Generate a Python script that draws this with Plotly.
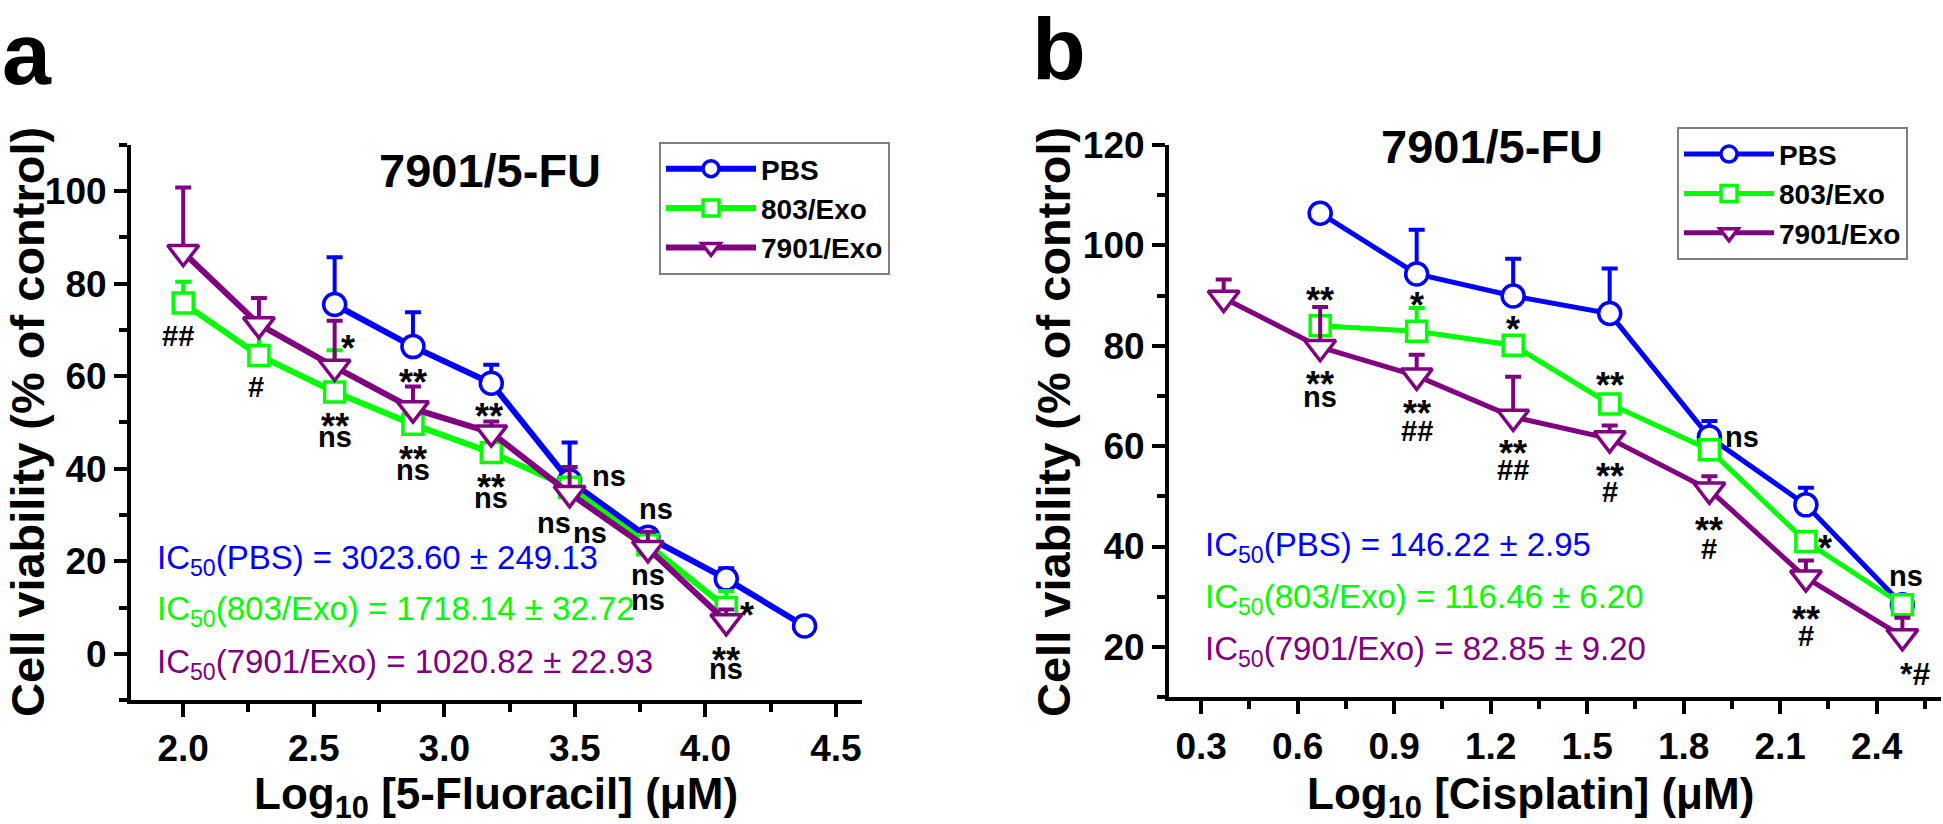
import plotly.graph_objects as go

# ---------------- Panel a : 5-Fluoracil ----------------
dose_a = [2.0, 2.29, 2.58, 2.88, 3.18, 3.48, 3.78, 4.08, 4.38]
pbs_a = [75.5, 66.4, 58.5, 37.4, 25.2, 16.2, 6.0]            # doses 2.58 .. 4.38
pbs_a_err = [10.2, 7.4, 4.0, 8.3, 1.5, 2.3, 1.0]
exo803_a = [75.8, 64.5, 56.6, 49.6, 43.5, 36.0, 23.6, 10.0]  # doses 2.0 .. 4.08
exo803_a_err = [4.6, 7.5, 9.0, 1.0, 1.0, 1.0, 1.0, 3.6]
exo7901_a = [86.8, 71.2, 62.0, 53.0, 47.8, 34.7, 22.8, 7.0]  # doses 2.0 .. 4.08
exo7901_a_err = [14.0, 5.7, 10.0, 4.8, 2.4, 5.7, 3.6, 2.6]

sig_a_x = [1.98, 2.28, 2.63, 2.58, 2.58, 2.88, 2.88, 2.88, 3.17, 3.18, 3.18,
           3.63, 3.42, 3.56, 3.81, 3.78, 3.78, 4.16, 4.08, 4.08]
sig_a_y = [68.7, 57.7, 67.6, 50.6, 46.4, 60.2, 43.6, 39.3, 52.8, 37.4, 33.2,
           37.9, 27.9, 25.7, 30.8, 16.6, 11.3, 9.8, 0.0, -3.8]
sig_a_text = ["##", "#", "*", "**", "ns", "**", "**", "ns", "**", "**", "ns",
              "ns", "ns", "ns", "ns", "ns", "ns", "*", "**", "ns"]

ic50_a = ["IC<sub>50</sub>(PBS) = 3023.60 ± 249.13",
          "IC<sub>50</sub>(803/Exo) = 1718.14 ± 32.72",
          "IC<sub>50</sub>(7901/Exo) = 1020.82 ± 22.93"]
ic50_a_y = [20.3, 9.2, -2.2]

# ---------------- Panel b : Cisplatin ----------------
dose_b = [0.37, 0.67, 0.97, 1.27, 1.57, 1.88, 2.18, 2.48]
pbs_b = [106.4, 94.3, 89.9, 86.4, 61.8, 48.3, 28.4]           # doses 0.67 .. 2.48
pbs_b_err = [1.0, 8.8, 7.4, 9.0, 3.2, 3.4, 1.0]
exo803_b = [84.0, 82.9, 80.1, 68.4, 59.3, 41.0, 28.4]         # doses 0.67 .. 2.48
exo803_b_err = [1.0, 4.6, 1.0, 1.0, 1.0, 1.0, 1.0]
exo7901_b = [89.5, 79.7, 74.0, 65.8, 61.5, 51.3, 33.8, 22.1]  # doses 0.37 .. 2.48
exo7901_b_err = [3.7, 8.0, 4.2, 8.0, 2.6, 2.7, 3.4, 3.7]

sig_b_x = [0.67, 0.67, 0.67, 0.97, 0.97, 0.97, 1.27, 1.27, 1.27, 1.57, 1.57, 1.57,
           1.98, 1.88, 1.88, 2.24, 2.18, 2.18, 2.49, 2.52]
sig_b_y = [90.5, 73.6, 69.4, 89.5, 67.8, 63.0, 84.6, 60.0, 55.3, 73.4, 55.4, 50.8,
           61.4, 44.6, 39.5, 41.0, 26.8, 22.1, 33.7, 15.3]
sig_b_text = ["**", "**", "ns", "*", "**", "##", "*", "**", "##", "**", "**", "#",
              "ns", "**", "#", "*", "**", "#", "ns", "*#"]

ic50_b = ["IC<sub>50</sub>(PBS) = 146.22 ± 2.95",
          "IC<sub>50</sub>(803/Exo) = 116.46 ± 6.20",
          "IC<sub>50</sub>(7901/Exo) = 82.85 ± 9.20"]
ic50_b_y = [40.0, 29.6, 19.2]

series_names = ["PBS", "803/Exo", "7901/Exo"]
colors = ["#0000FF", "#00FF00", "#800080"]
symbols = ["circle", "square", "triangle-down"]
msizes = [22, 20, 27]

FONT = "Liberation Sans, Arial, sans-serif"

fig = go.Figure()


def add_series(x, y, err, i, xa, ya, legend, lw):
    fig.add_trace(go.Scatter(
        x=x, y=y, mode="lines+markers", name=series_names[i],
        xaxis=xa, yaxis=ya, legend=legend,
        line=dict(color=colors[i], width=lw),
        marker=dict(symbol=symbols[i], size=msizes[i], color="white",
                    line=dict(color=colors[i], width=3.5)),
        error_y=dict(type="data", symmetric=False, array=err,
                     arrayminus=[0] * len(err), color=colors[i],
                     thickness=4, width=8),
    ))


add_series(dose_a[2:], pbs_a, pbs_a_err, 0, "x", "y", "legend", 6)
add_series(dose_a[:8], exo803_a, exo803_a_err, 1, "x", "y", "legend", 6)
add_series(dose_a[:8], exo7901_a, exo7901_a_err, 2, "x", "y", "legend", 6)
add_series(dose_b[1:], pbs_b, pbs_b_err, 0, "x2", "y2", "legend2", 5)
add_series(dose_b[1:], exo803_b, exo803_b_err, 1, "x2", "y2", "legend2", 5)
add_series(dose_b, exo7901_b, exo7901_b_err, 2, "x2", "y2", "legend2", 5)

annotations = []


def sig_font(t):
    if set(t) == {"*"}:
        return 36, -7
    if "*" in t:
        return 32, -3
    return 29, 2 if t == "ns" else 0


for xs, ys, ts, xr, yr in [(sig_a_x, sig_a_y, sig_a_text, "x", "y"),
                           (sig_b_x, sig_b_y, sig_b_text, "x2", "y2")]:
    for xv, yv, t in zip(xs, ys, ts):
        size, shift = sig_font(t)
        annotations.append(dict(x=xv, y=yv, xref=xr, yref=yr, text=t, showarrow=False,
                                yshift=shift, xanchor="center", yanchor="middle",
                                font=dict(family=FONT, size=size, color="black", weight="bold")))

for texts, ys, x0, xr, yr in [(ic50_a, ic50_a_y, 1.893, "x", "y"),
                              (ic50_b, ic50_b_y, 0.306, "x2", "y2")]:
    for i, (t, yv) in enumerate(zip(texts, ys)):
        annotations.append(dict(x=x0, y=yv, xref=xr, yref=yr, text=t, showarrow=False,
                                xanchor="left", yanchor="middle",
                                font=dict(family=FONT, size=33, color=colors[i])))

# chart titles
annotations.append(dict(x=3.176, y=104.5, xref="x", yref="y", text="7901/5-FU", showarrow=False,
                        xanchor="center", yanchor="middle",
                        font=dict(family=FONT, size=47, color="black", weight="bold")))
annotations.append(dict(x=1.203, y=119.6, xref="x2", yref="y2", text="7901/5-FU", showarrow=False,
                        xanchor="center", yanchor="middle",
                        font=dict(family=FONT, size=47, color="black", weight="bold")))
# panel letters
annotations.append(dict(x=0.0, y=0.958, xref="paper", yref="paper", text="a", showarrow=False,
                        xanchor="left", yanchor="middle",
                        font=dict(family=FONT, size=88, color="black", weight="bold")))
annotations.append(dict(x=0.530, y=0.964, xref="paper", yref="paper", text="b", showarrow=False,
                        xanchor="left", yanchor="middle",
                        font=dict(family=FONT, size=88, color="black", weight="bold")))
# axis titles
for xp in [27 / 1943, 1053 / 1943]:
    annotations.append(dict(x=xp, y=0.5, xref="paper", yref="paper",
                            text="Cell viability (% of control)", textangle=-90, showarrow=False,
                            xanchor="center", yanchor="middle",
                            font=dict(family=FONT, size=47, color="black", weight="bold")))
annotations.append(dict(x=496 / 1943, y=0.033, xref="paper", yref="paper",
                        text="Log<sub>10</sub> [5-Fluoracil] (μM)", showarrow=False,
                        xanchor="center", yanchor="middle",
                        font=dict(family=FONT, size=44, color="black", weight="bold")))
annotations.append(dict(x=1530 / 1943, y=0.033, xref="paper", yref="paper",
                        text="Log<sub>10</sub> [Cisplatin] (μM)", showarrow=False,
                        xanchor="center", yanchor="middle",
                        font=dict(family=FONT, size=44, color="black", weight="bold")))

tickfont = dict(family=FONT, size=37, color="black", weight="bold")


def minor(dtick, tick0):
    return dict(ticks="outside", ticklen=8, tickwidth=3.5, tickcolor="black",
                dtick=dtick, tick0=tick0, showgrid=False)


def axis_style(**kw):
    d = dict(showline=True, linewidth=4, linecolor="black", mirror=False,
             ticks="outside", ticklen=13, tickwidth=3.5, tickcolor="black",
             showgrid=False, zeroline=False, tickfont=tickfont)
    d.update(kw)
    return d


legend_style = dict(xanchor="left", yanchor="top", bgcolor="white",
                    bordercolor="#808080", borderwidth=2,
                    font=dict(family=FONT, size=28, color="black", weight="bold"),
                    tracegroupgap=0, itemwidth=90)

fig.update_layout(
    width=1943, height=824,
    margin=dict(l=0, r=0, t=0, b=0),
    paper_bgcolor="white", plot_bgcolor="white",
    xaxis=axis_style(domain=[131 / 1943, 862 / 1943], range=[1.8, 4.6], tick0=2.0, dtick=0.5,
                     tickformat=".1f", anchor="y", minor=minor(0.25, 2.0)),
    yaxis=axis_style(domain=[1 - 697 / 824, 1 - 128 / 824], range=[-10, 110], tick0=0, dtick=20,
                     anchor="x", minor=minor(10, 0)),
    xaxis2=axis_style(domain=[1169 / 1943, 1941 / 1943], range=[0.2, 2.6], tick0=0.3, dtick=0.3,
                      tickformat=".1f", anchor="y2", minor=minor(0.15, 0.3)),
    yaxis2=axis_style(domain=[1 - 694 / 824, 1 - 128 / 824], range=[10, 120], tick0=20, dtick=20,
                      anchor="x2", minor=minor(10, 20)),
    legend=dict(x=659 / 1943, y=1 - 125 / 824, **legend_style),
    legend2=dict(x=1677 / 1943, y=1 - 110 / 824, **legend_style),
    annotations=annotations,
    showlegend=True,
)

fig.write_html("out.html", config={"displayModeBar": False},
               post_script="document.body.style.margin='0';document.body.style.padding='0';")
